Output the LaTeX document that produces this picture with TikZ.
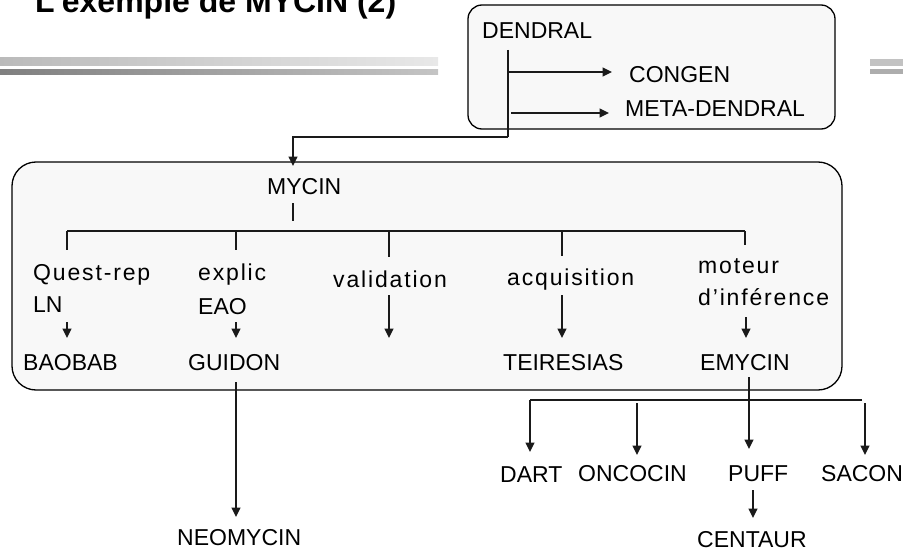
\documentclass[tikz,border=0pt]{standalone}
\usepackage{fontspec}
\setmainfont{Liberation Sans}
\usetikzlibrary{arrows.meta}
\definecolor{ink}{HTML}{1A1A1A}
\definecolor{panelfill}{HTML}{F8F8F8}
\begin{document}
\begin{tikzpicture}[x=1pt,y=-1pt,
  lbl/.style={anchor=base west, inner sep=0pt, font=\fontsize{23}{26}\selectfont},
  wlbl/.style={lbl, font=\fontsize{23}{26}\selectfont\addfontfeature{LetterSpace=8}},
  ttl/.style={anchor=base west, inner sep=0pt, font=\bfseries\fontsize{32}{36}\selectfont},
  ln/.style={line width=1.3pt, draw=ink},
  arr/.style={ln, -{Triangle[length=9.5pt,width=9pt]}},
  panel/.style={draw=black, line width=1.3pt, fill=panelfill, rounded corners=#1},
]
\useasboundingbox (0,0) rectangle (903,551);
\clip (0,0) rectangle (903,551);

% title and header rules
\node[ttl] (title) at (35,13) {L’exemple de MYCIN (2)};
\shade[left color=black!27, right color=black!9] (0,58) rectangle (438,66);
\shade[left color=black!50, right color=black!23] (0,70) rectangle (438,75);
\fill[black!24] (870,59) rectangle (903,66);
\fill[black!32] (870,69) rectangle (903,74);

% panels
\path[panel=14] (468,5) rectangle (835,129);
\path[panel=24] (12,162) rectangle (842,390);

% DENDRAL family
\node[lbl] (dendral) at (482,39) {DENDRAL};
\node[lbl] (congen) at (629,82) {CONGEN};
\node[lbl] (metadendral) at (625,117) {META-DENDRAL};
\coordinate (dtop) at (508,50);
\coordinate (dturn) at (508,137);
\coordinate (dleft) at (293,137);
\coordinate (dtip) at (293,166);
\coordinate (cgfrom) at (508,72);
\coordinate (cgto) at (612,72);
\coordinate (mdfrom) at (511,113);
\coordinate (mdto) at (609,113);
\draw[ln] (dtop) -- (dturn);
\draw[arr] (dturn) -- (dleft) -- (dtip);
\draw[arr] (cgfrom) -- (cgto);
\draw[arr] (mdfrom) -- (mdto);

% MYCIN and its components
\node[lbl] (mycin) at (267,194) {MYCIN};
\coordinate (mtick1) at (293,203);
\coordinate (mtick2) at (293,221);
\draw[ln] (mtick1) -- (mtick2);
\coordinate (busL) at (67,231);
\coordinate (busR) at (745,231);
\draw[ln] (busL) -- (busR);
\foreach \x/\y in {67/250, 236/250, 389/257, 562/256, 745/245}
  \draw[ln] (\x,231) -- (\x,\y);

\node[wlbl] (quest) at (33,280) {Quest-rep};
\node[lbl] (lnlbl) at (33,312) {LN};
\node[wlbl] (explic) at (198,280) {explic};
\node[lbl] (eao) at (198,314) {EAO};
\node[wlbl] (valid) at (333,287) {validation};
\node[wlbl] (acq) at (507,285) {acquisition};
\node[wlbl] (moteur) at (698,273) {moteur};
\node[wlbl] (infer) at (698,305) {d’inférence};

\node[lbl] (baobab) at (23,370) {BAOBAB};
\node[lbl] (guidon) at (188,370) {GUIDON};
\node[lbl] (teiresias) at (503,370) {TEIRESIAS};
\node[lbl] (emycin) at (700,370) {EMYCIN};

\coordinate (a1) at (67,322);  \coordinate (b1) at (67,338);
\coordinate (a2) at (236,322); \coordinate (b2) at (236,338);
\coordinate (a3) at (389,295); \coordinate (b3) at (389,338);
\coordinate (a4) at (562,295); \coordinate (b4) at (562,338);
\coordinate (a5) at (746,317); \coordinate (b5) at (746,338);
\draw[arr] (a1) -- (b1);
\draw[arr] (a2) -- (b2);
\draw[arr] (a3) -- (b3);
\draw[arr] (a4) -- (b4);
\draw[arr] (a5) -- (b5);

% descendants outside the panel
\node[lbl] (neomycin) at (177,545) {NEOMYCIN};
\coordinate (gfrom) at (236,382);
\coordinate (gto) at (236,517);
\draw[arr] (gfrom) -- (gto);

\node[lbl] (dart) at (500,482) {DART};
\node[lbl] (oncocin) at (578,481) {ONCOCIN};
\node[lbl] (puff) at (728,481) {PUFF};
\node[lbl] (sacon) at (821,481) {SACON};
\node[lbl] (centaur) at (697,547) {CENTAUR};

\coordinate (efrom) at (749,377);
\coordinate (eto) at (749,449);
\draw[arr] (efrom) -- (eto);
\coordinate (bus2L) at (530,400);
\coordinate (bus2R) at (862,400);
\draw[ln] (bus2R) -- (bus2L);
\draw[arr] (bus2L) -- (530,452);
\coordinate (ofrom) at (637,403);
\coordinate (oto) at (637,455);
\draw[arr] (ofrom) -- (oto);
\coordinate (sfrom) at (865,403);
\coordinate (sto) at (865,455);
\draw[arr] (sfrom) -- (sto);
\coordinate (pfrom) at (753,490);
\coordinate (pto) at (753,518);
\draw[arr] (pfrom) -- (pto);
\end{tikzpicture}
\end{document}
